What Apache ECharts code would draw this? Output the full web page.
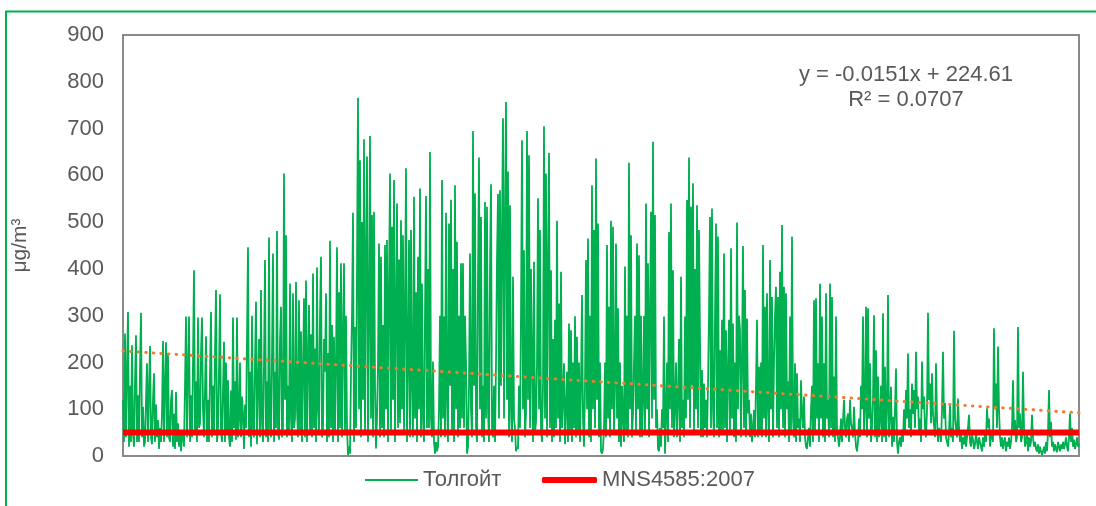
<!DOCTYPE html>
<html><head><meta charset="utf-8">
<script src="https://cdn.jsdelivr.net/npm/echarts@6/dist/echarts.min.js"></script>
<style>html,body{margin:0;padding:0;background:#fff}#c{width:1096px;height:506px}</style>
</head><body><div id="c"></div>
<script>
// ---- data ----
const stationName = 'Толгойт';
const standardName = 'MNS4585:2007';
const yAxisName = 'μg/m³';
const yMin = 0, yMax = 900, yStep = 100;
const hoursFirst = 1, hoursLast = 8760;
const pm10 = [
 120,30,262,40,180,308,20,150,30,237,50,20,160,258,30,130,30,190,306,40,
 105,20,30,120,198,30,140,235,40,25,120,177,30,110,40,77,15,60,30,90,
 246,30,150,243,40,219,40,30,120,141,20,90,15,137,30,70,20,55,10,40,
 55,20,150,298,40,180,298,30,130,40,200,397,50,160,30,296,60,70,220,296,
 100,40,141,256,30,120,30,180,308,40,150,45,220,355,30,60,180,346,50,30,
 140,244,30,200,50,162,40,20,140,30,296,60,160,35,296,40,80,200,40,127,
 90,15,110,60,250,446,40,180,20,300,60,40,200,330,25,150,250,40,355,70,
 30,200,419,40,160,30,467,60,40,220,433,30,180,60,481,50,35,250,319,40,
 60,604,120,472,40,150,50,369,80,30,348,60,80,372,100,40,333,50,266,30,
 180,337,40,375,30,200,323,50,260,40,390,60,230,30,403,100,50,300,426,40,
 60,250,180,348,30,220,40,460,60,280,30,255,50,200,446,30,350,60,412,40,
 250,412,50,300,60,2,20,5,180,300,520,30,276,60,400,766,100,632,40,500,
 120,677,50,420,640,30,300,684,80,515,40,522,150,16,80,200,454,40,426,60,
 280,40,451,100,462,30,350,604,50,490,120,590,30,300,540,60,420,70,504,100,
 472,50,300,615,30,200,462,40,483,150,40,554,80,350,30,426,100,572,40,369,
 80,30,300,556,60,400,60,650,80,40,202,30,5,30,10,20,100,300,40,590,
 80,298,40,520,120,30,497,150,548,50,400,30,579,100,458,40,300,60,412,80,
 412,60,300,198,5,20,150,433,100,40,695,150,561,60,30,380,638,100,511,40,
 150,30,543,80,533,100,30,400,581,60,40,150,30,200,420,560,80,568,150,480,
 722,80,500,757,120,608,40,536,100,30,383,80,60,10,20,15,150,60,300,675,
 100,440,40,90,695,120,643,60,400,198,30,415,50,73,200,551,100,483,60,30,
 150,705,80,604,40,400,648,60,397,30,250,40,291,60,503,80,326,30,394,60,
 120,198,25,100,180,30,283,50,269,30,200,60,299,40,255,50,200,30,150,344,
 80,20,150,419,100,465,40,300,30,579,100,483,60,636,120,497,40,200,10,5,
 15,60,200,40,451,80,319,40,503,100,490,50,150,454,80,316,30,200,20,150,
 80,30,405,50,300,40,627,100,472,40,91,200,300,50,454,100,429,40,300,40,
 120,300,50,540,100,412,40,300,522,80,672,120,515,60,100,15,10,60,20,100,
 60,298,5,80,200,30,479,100,540,60,397,40,100,200,40,120,250,30,383,60,
 120,40,298,80,547,120,638,60,533,150,583,50,400,100,536,60,483,248,40,184,
 40,155,60,120,40,150,300,511,60,529,100,40,300,497,60,469,40,226,50,291,
 50,433,60,269,30,180,291,50,444,80,283,40,200,30,499,100,300,269,40,200,
 449,60,355,40,294,91,120,40,90,30,60,98,40,150,291,40,191,50,200,40,
 451,80,319,40,348,100,30,419,100,340,40,200,300,362,60,340,40,394,100,494,
 60,362,40,348,100,160,30,298,50,469,80,40,198,30,177,60,80,30,162,91,
 60,127,40,20,15,40,60,20,100,150,30,333,50,337,80,198,30,368,80,298,
 40,198,30,348,80,120,40,369,60,340,40,170,30,298,50,40,20,40,80,30,
 30,120,60,40,80,91,30,120,70,60,40,105,50,20,10,30,80,40,150,100,
 298,50,100,319,40,316,80,198,30,60,120,301,40,226,30,170,40,80,150,30,
 305,40,191,30,100,344,40,90,148,20,84,30,100,187,30,5,30,40,20,56,
 30,100,50,141,80,219,60,100,40,155,90,141,60,223,100,127,50,80,30,202,
 100,127,60,40,100,306,120,155,70,177,90,91,40,198,80,30,60,50,30,100,
 223,80,113,40,30,20,50,109,40,60,30,268,80,84,40,123,60,30,50,15,
 40,25,50,20,40,60,88,30,20,45,35,15,25,50,30,15,40,30,20,10,
 40,20,50,30,102,60,80,20,40,50,30,273,100,155,60,234,98,40,20,40,
 15,30,40,10,30,20,40,15,30,60,162,50,77,30,40,276,60,91,30,40,
 180,60,20,30,50,10,40,20,30,88,40,20,30,15,10,25,5,20,10,2,
 10,20,5,30,10,50,141,40,73,20,30,10,25,15,8,30,20,10,25,15,
 30,15,25,40,20,10,40,91,30,60,20,35,15,25,40,20,27
];
const standardValue = 50;
const trendHours = [1, 8760];
const trendValues = [224.59, 92.33];
const equationLines = ['y = -0.0151x + 224.61', 'R² = 0.0707'];

// ---- chart ----
const txt = '#595959';
const font = 'Liberation Sans, Arial, sans-serif';
const stationData = pm10.map((v, i) => [hoursFirst + i * (hoursLast - hoursFirst) / (pm10.length - 1), v]);
const standardData = [[hoursFirst, standardValue], [hoursLast, standardValue]];
const trendData = trendHours.map((h, i) => [h, trendValues[i]]);

const chart = echarts.init(document.getElementById('c'), null, {renderer: 'canvas'});
chart.setOption({
  animation: false,
  backgroundColor: '#fff',
  grid: {left: 123, top: 35, right: 17, bottom: 50, show: true, borderColor: '#8a8a8a', borderWidth: 2, backgroundColor: 'transparent'},
  xAxis: {type: 'value', min: hoursFirst, max: hoursLast,
    axisLine: {show: false}, axisTick: {show: false}, axisLabel: {show: false}, splitLine: {show: false}},
  yAxis: {type: 'value', min: yMin, max: yMax, interval: yStep,
    name: yAxisName, nameLocation: 'middle', nameGap: 92,
    nameTextStyle: {color: txt, fontSize: 21, fontFamily: font},
    axisLine: {show: false}, axisTick: {show: false}, splitLine: {show: false},
    axisLabel: {color: txt, fontSize: 22, fontFamily: font, margin: 19}},
  legend: [
    {data: [{name: stationName, icon: 'rect', itemStyle: {color: '#00B050'}}],
     left: 360, top: 464, itemWidth: 53, itemHeight: 2, itemGap: 0,
     textStyle: {color: txt, fontSize: 22, fontFamily: font}},
    {data: [{name: standardName, icon: 'roundRect', itemStyle: {color: '#FF0000'}}],
     left: 537, top: 464, itemWidth: 55, itemHeight: 6, itemGap: 0,
     textStyle: {color: txt, fontSize: 22, fontFamily: font}}
  ],
  graphic: [
    {type: 'rect', shape: {x: 6, y: 11.5, width: 1200, height: 600}, style: {fill: 'none', stroke: '#00B050', lineWidth: 2}, silent: true},
    {type: 'text', x: 906, y: 75, style: {text: equationLines[0], fill: txt, fontSize: 22, fontFamily: font, align: 'center', verticalAlign: 'middle'}},
    {type: 'text', x: 906, y: 100, style: {text: equationLines[1], fill: txt, fontSize: 22, fontFamily: font, align: 'center', verticalAlign: 'middle'}}
  ],
  series: [
    {name: stationName, type: 'line', data: stationData, showSymbol: false, symbol: 'none',
     lineStyle: {color: '#00B050', width: 1.8}, itemStyle: {color: '#00B050'}, z: 2},
    {name: standardName, type: 'line', data: standardData, showSymbol: false, symbol: 'none',
     lineStyle: {color: '#FF0000', width: 6}, itemStyle: {color: '#FF0000'}, z: 3},
    {name: 'trend', type: 'line', data: trendData, showSymbol: false, symbol: 'none',
     lineStyle: {color: '#ED7D31', width: 3, type: [0.5, 7.1], cap: 'round'}, z: 4}
  ]
});
</script></body></html>
